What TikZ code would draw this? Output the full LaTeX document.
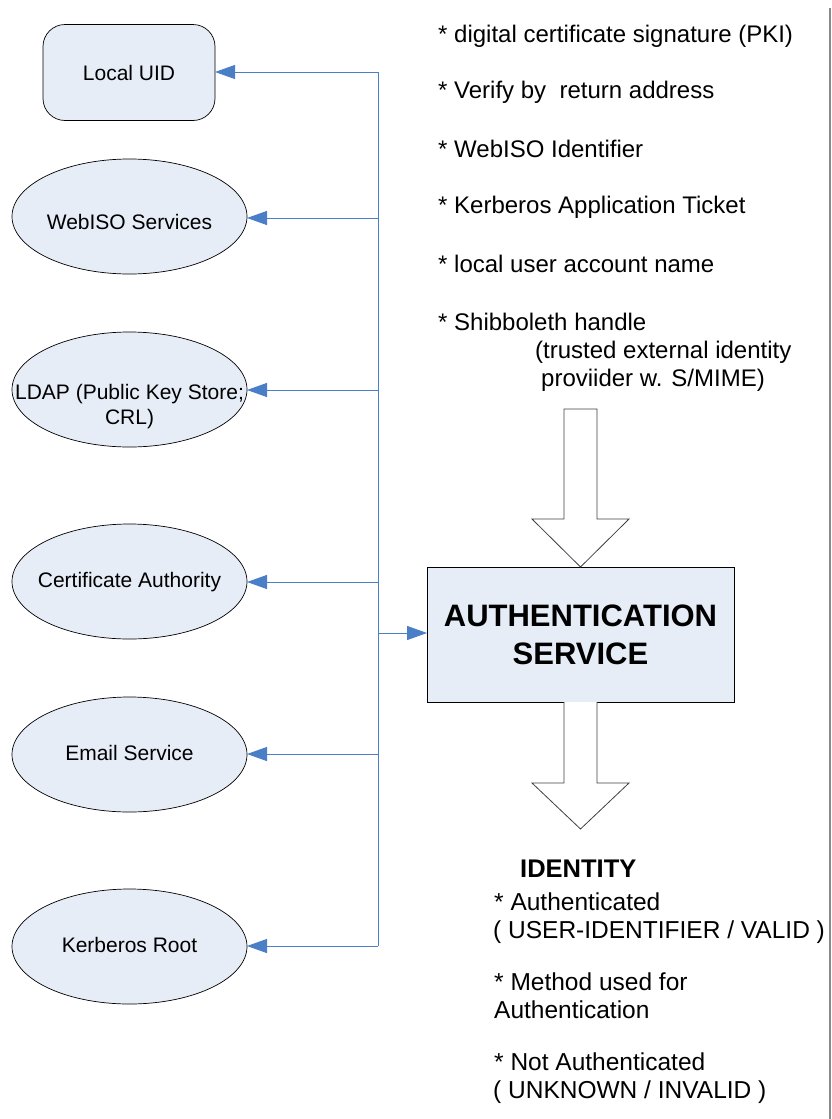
\documentclass[tikz,border=0pt]{standalone}
\usepackage{fontspec}
\setmainfont{Liberation Sans}
\usetikzlibrary{arrows.meta,shapes.geometric}
\definecolor{nodefill}{HTML}{E7EDF7}
\definecolor{linkblue}{HTML}{4A7EC6}
\definecolor{rulegray}{HTML}{8A8A8A}
\newcommand{\ctrtext}[2]{\smash{\raisebox{#1}{\makebox[0pt]{\begin{tabular}{@{}c@{}}#2\end{tabular}}}}}
\tikzset{
  svc/.style={ellipse, draw=black, line width=0.7pt, fill=nodefill, minimum width=235pt, minimum height=115pt, inner sep=0pt, outer sep=0pt, font=\fontsize{21}{25}\selectfont},
  uidbox/.style={rectangle, rounded corners=22pt, draw=black, line width=0.7pt, fill=nodefill, minimum width=172pt, minimum height=96pt, inner sep=0pt, outer sep=0pt, font=\fontsize{21}{25}\selectfont},
  authbox/.style={rectangle, draw=black, line width=0.7pt, fill=nodefill, minimum width=307pt, minimum height=135pt, inner sep=0pt, outer sep=0pt, font=\fontsize{31}{38}\selectfont\bfseries, align=center},
  link/.style={draw=linkblue, line width=1pt, -{Triangle[length=20pt,width=14pt]}},
  trunk/.style={draw=linkblue, line width=1pt},
  blockarrow/.style={draw=black!75, line width=0.8pt, fill=white},
  listtxt/.style={anchor=base west, inner sep=0pt, font=\fontsize{24}{28}\selectfont},
  idtxt/.style={anchor=base west, inner sep=0pt, font=\fontsize{24.5}{28}\selectfont},
}
\begin{document}
\begin{tikzpicture}[x=1pt,y=-1pt]
\useasboundingbox (0,0) rectangle (831,1119);
% left nodes
\node[uidbox] (uid) at (129,72.5) {Local UID};
\node[svc] (web) at (129.5,216.5) {\ctrtext{-13.5pt}{WebISO Services}};
\node[svc] (ldap) at (129.5,389.5) {\ctrtext{-23pt}{LDAP (Public Key Store;\\CRL)}};
\node[svc] (ca) at (129.5,581.5) {\ctrtext{-6.5pt}{Certificate Authority}};
\node[svc] (mail) at (129.5,754.5) {\ctrtext{-6pt}{Email Service}};
\node[svc] (krb) at (129.5,946.5) {\ctrtext{-6.5pt}{Kerberos Root}};
% auth service
\node[authbox] (auth) at (580.5,634.5) {AUTHENTICATION\\SERVICE};
% trunk and branches
\coordinate (b1) at (378,72);
\coordinate (b2) at (378,218);
\coordinate (b3) at (378,390);
\coordinate (b4) at (378,582);
\coordinate (bA) at (378,633);
\coordinate (b5) at (378,754);
\coordinate (b6) at (378,946);
\draw[trunk] (b1) -- (b6);
\draw[link] (b1) -- (uid.east |- b1);
\draw[link] (b2) -- (web.east |- b2);
\draw[link] (b3) -- (ldap.east |- b3);
\draw[link] (b4) -- (ca.east |- b4);
\draw[link] (b5) -- (mail.east |- b5);
\draw[link] (b6) -- (krb.east |- b6);
\draw[link] (bA) -- (auth.west |- bA);
% block arrows
\draw[blockarrow] (564,409) -- (597,409) -- (597,519) -- (629,519) -- (auth.north) -- (532,519) -- (564,519) -- cycle;
\draw[blockarrow] (auth.south -| 564,0) -- (564,783) -- (532,783) -- (580.5,829) -- (629,783) -- (597,783) -- (auth.south -| 597,0);
% right rule
\draw[rulegray, line width=2pt] (829.5,8) -- (829.5,1119);
% input list
\node[listtxt] (t1) at (438,42) {* digital certificate signature (PKI)};
\node[listtxt] (t2) at (438,98.5) {* Verify by \ return address};
\node[listtxt] (t3) at (438,157) {* WebISO Identifier};
\node[listtxt] (t4) at (438,213.5) {* Kerberos Application Ticket};
\node[listtxt] (t5) at (438,272) {* local user account name};
\node[listtxt] (t6) at (438,330) {* Shibboleth handle};
\node[listtxt] (t7) at (535,358) {(trusted external identity};
\node[listtxt] (t8) at (541,386) {proviider w. S/MIME)};
% identity output
\node[anchor=base west, inner sep=0pt, font=\fontsize{25.5}{28}\selectfont\bfseries] (idh) at (520,877) {IDENTITY};
\node[idtxt] (i1) at (494,910) {* Authenticated};
\node[idtxt] (i2) at (493,938) {( USER-IDENTIFIER / VALID )};
\node[idtxt] (i3) at (494,990) {* Method used for};
\node[idtxt] (i4) at (494,1018) {Authentication};
\node[idtxt] (i5) at (494,1070) {* Not Authenticated};
\node[idtxt] (i6) at (493,1098) {( UNKNOWN / INVALID )};
\end{tikzpicture}
\end{document}
